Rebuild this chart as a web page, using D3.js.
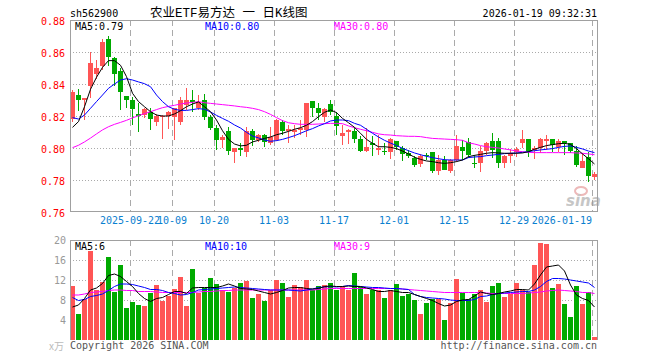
<!DOCTYPE html>
<html><head><meta charset="utf-8">
<script src="https://cdn.jsdelivr.net/npm/d3@7/dist/d3.min.js"></script>
<style>body{margin:0;background:#fff}svg{display:block}</style>
</head><body>
<svg id="c" width="660" height="360"></svg>
<script>
const dates = ["2025-09-08","2025-09-09","2025-09-10","2025-09-11","2025-09-12","2025-09-15","2025-09-16","2025-09-17","2025-09-18","2025-09-19","2025-09-22","2025-09-23","2025-09-24","2025-09-25","2025-09-26","2025-09-29","2025-09-30","2025-10-09","2025-10-10","2025-10-13","2025-10-14","2025-10-15","2025-10-16","2025-10-17","2025-10-20","2025-10-21","2025-10-22","2025-10-23","2025-10-24","2025-10-27","2025-10-28","2025-10-29","2025-10-30","2025-10-31","2025-11-03","2025-11-04","2025-11-05","2025-11-06","2025-11-07","2025-11-10","2025-11-11","2025-11-12","2025-11-13","2025-11-14","2025-11-17","2025-11-18","2025-11-19","2025-11-20","2025-11-21","2025-11-24","2025-11-25","2025-11-26","2025-11-27","2025-11-28","2025-12-01","2025-12-02","2025-12-03","2025-12-04","2025-12-05","2025-12-08","2025-12-09","2025-12-10","2025-12-11","2025-12-12","2025-12-15","2025-12-16","2025-12-17","2025-12-18","2025-12-19","2025-12-22","2025-12-23","2025-12-24","2025-12-25","2025-12-26","2025-12-29","2025-12-30","2025-12-31","2026-01-05","2026-01-06","2026-01-07","2026-01-08","2026-01-09","2026-01-12","2026-01-13","2026-01-14","2026-01-15","2026-01-16","2026-01-19"];

const open  = [0.818,0.833,0.830,0.839,0.846,0.851,0.868,0.856,0.848,0.8325,0.830,0.8213,0.8206,0.8228,0.8165,0.8196,0.820,0.8196,0.8165,0.8269,0.830,0.8248,0.830,0.8192,0.8124,0.8047,0.8109,0.7978,0.7999,0.7978,0.8109,0.8051,0.8082,0.8030,0.8051,0.8165,0.8109,0.8103,0.8113,0.8113,0.8294,0.8253,0.8196,0.8275,0.8200,0.8076,0.8103,0.8107,0.8057,0.7984,0.8034,0.7989,0.7984,0.7978,0.8045,0.7999,0.7968,0.7936,0.7901,0.7957,0.7974,0.7859,0.7926,0.7859,0.7926,0.8009,0.8040,0.7905,0.7909,0.7982,0.8045,0.8045,0.7909,0.7947,0.7978,0.8034,0.8057,0.7989,0.7999,0.8045,0.8057,0.8005,0.8045,0.8030,0.7984,0.7874,0.7942,0.7817];
const high  = [0.836,0.837,0.8315,0.860,0.855,0.868,0.870,0.857,0.850,0.8325,0.832,0.828,0.825,0.8248,0.821,0.8206,0.8234,0.8248,0.832,0.8373,0.8363,0.833,0.834,0.8206,0.8144,0.8082,0.813,0.7999,0.803,0.813,0.812,0.8088,0.8088,0.813,0.818,0.8175,0.8144,0.8144,0.8175,0.8284,0.8294,0.828,0.825,0.830,0.8228,0.8144,0.8117,0.8134,0.8072,0.8124,0.8072,0.808,0.803,0.806,0.8045,0.801,0.7989,0.7947,0.7963,0.7968,0.7974,0.7957,0.795,0.793,0.808,0.805,0.806,0.7957,0.8013,0.804,0.8092,0.806,0.7957,0.7993,0.8009,0.8113,0.8057,0.8013,0.8061,0.8082,0.8057,0.8057,0.8045,0.8034,0.8013,0.7968,0.7972,0.7853];
const low   = [0.816,0.823,0.8175,0.831,0.843,0.849,0.851,0.839,0.824,0.825,0.8145,0.810,0.8186,0.811,0.814,0.8057,0.812,0.805,0.8145,0.8238,0.8228,0.8238,0.8175,0.8113,0.7989,0.7999,0.7957,0.7909,0.795,0.7943,0.8013,0.804,0.8005,0.802,0.8045,0.8082,0.8030,0.806,0.808,0.807,0.8196,0.8175,0.8165,0.8207,0.8082,0.802,0.8026,0.803,0.7972,0.7978,0.7951,0.7957,0.7957,0.793,0.799,0.792,0.7937,0.7884,0.788,0.7926,0.7843,0.7832,0.786,0.7843,0.791,0.7925,0.7936,0.7874,0.7853,0.7957,0.7936,0.7874,0.7874,0.7905,0.7943,0.7999,0.7943,0.7930,0.7968,0.7988,0.7978,0.7978,0.7957,0.7968,0.7884,0.7874,0.7790,0.7797];
const close = [0.835,0.830,0.831,0.853,0.850,0.866,0.857,0.846,0.835,0.830,0.8244,0.820,0.8244,0.818,0.820,0.8200,0.8228,0.8248,0.830,0.830,0.829,0.829,0.8196,0.8124,0.8047,0.8066,0.7984,0.7999,0.7989,0.8109,0.8047,0.8082,0.8040,0.8066,0.8175,0.8109,0.8117,0.8113,0.8124,0.8284,0.8253,0.8217,0.8244,0.8227,0.8138,0.8092,0.8113,0.8057,0.7984,0.8009,0.8018,0.7999,0.7980,0.8057,0.8005,0.7961,0.7947,0.7895,0.7951,0.7955,0.7859,0.7926,0.7864,0.7926,0.8013,0.7984,0.7957,0.7900,0.7982,0.8030,0.7988,0.7905,0.7947,0.7968,0.7993,0.8057,0.7984,0.7999,0.8057,0.8057,0.8020,0.8045,0.8030,0.7984,0.7895,0.7916,0.7826,0.7836];
const volume = [10.8,5.2,8.3,17.8,10.0,11.7,16.7,9.7,15.0,6.5,7.7,7.0,6.8,9.5,11.0,7.9,8.9,10.2,12.7,6.8,14.2,9.5,10.5,12.5,11.2,10.0,9.7,10.5,11.5,11.8,8.4,9.2,7.9,10.1,12.0,11.5,8.7,11.0,10.7,12.0,10.0,10.8,11.0,11.5,10.1,10.7,10.0,13.5,10.7,9.2,10.0,10.0,8.4,10.1,11.2,8.8,9.2,8.0,5.2,7.5,8.3,8.3,4.0,7.5,12.2,9.5,8.3,9.3,10.0,7.7,10.8,11.5,8.7,9.3,11.5,10.1,9.7,15.0,19.5,19.2,10.5,11.2,7.2,4.7,10.8,7.2,9.7,0.7];

const ma5  = [0.8129,0.8165,0.8258,0.8367,0.8442,0.8504,0.8546,0.8546,0.8517,0.8446,0.8342,0.8290,0.8258,0.8227,0.8206,0.8200,0.8200,0.8213,0.8233,0.8258,0.8275,0.8288,0.8258,0.8227,0.8175,0.8108,0.8054,0.8025,0.8013,0.8017,0.8038,0.8048,0.8060,0.8069,0.8083,0.8092,0.8104,0.8117,0.8127,0.8142,0.8165,0.8196,0.8223,0.8238,0.8221,0.8185,0.8158,0.8129,0.8092,0.8054,0.8029,0.8008,0.8008,0.8004,0.7996,0.7981,0.7963,0.7942,0.7929,0.7919,0.7915,0.7908,0.7904,0.7908,0.7915,0.7925,0.7946,0.7954,0.7960,0.7967,0.7971,0.7969,0.7967,0.7967,0.7967,0.7969,0.7977,0.7992,0.8004,0.8015,0.8021,0.8027,0.8029,0.8023,0.7996,0.7963,0.7933,0.7900];
const ma10 = [0.8190,0.8181,0.8206,0.8248,0.8290,0.8331,0.8373,0.8400,0.8425,0.8433,0.8425,0.8413,0.8402,0.8383,0.8331,0.8290,0.8258,0.8242,0.8235,0.8235,0.8240,0.8246,0.8242,0.8225,0.8204,0.8185,0.8167,0.8144,0.8125,0.8098,0.8075,0.8063,0.8050,0.8042,0.8046,0.8054,0.8065,0.8077,0.8092,0.8108,0.8121,0.8138,0.8152,0.8169,0.8175,0.8175,0.8171,0.8154,0.8142,0.8117,0.8092,0.8069,0.8048,0.8031,0.8015,0.7998,0.7983,0.7969,0.7958,0.7948,0.7940,0.7933,0.7927,0.7925,0.7925,0.7925,0.7940,0.7944,0.7946,0.7952,0.7956,0.7960,0.7965,0.7967,0.7969,0.7973,0.7977,0.7983,0.7988,0.7992,0.7996,0.8004,0.8010,0.8013,0.8004,0.7994,0.7981,0.7971];
const ma30 = [0.8002,0.8017,0.8038,0.8062,0.8088,0.8113,0.8133,0.8148,0.8160,0.8173,0.8188,0.8202,0.8215,0.8227,0.8240,0.8252,0.8260,0.8267,0.8275,0.8281,0.8285,0.8290,0.8283,0.8279,0.8275,0.8271,0.8267,0.8263,0.8258,0.8254,0.8248,0.8240,0.8227,0.8210,0.8190,0.8171,0.8158,0.8152,0.8148,0.8148,0.8148,0.8150,0.8152,0.8154,0.8154,0.8152,0.8138,0.8127,0.8117,0.8108,0.8098,0.8088,0.8083,0.8081,0.8077,0.8075,0.8073,0.8073,0.8071,0.8065,0.8060,0.8058,0.8056,0.8054,0.8052,0.8048,0.8033,0.8025,0.8015,0.8008,0.8004,0.8000,0.7994,0.7988,0.7981,0.7977,0.7973,0.7971,0.7971,0.7971,0.7971,0.7971,0.7971,0.7971,0.7969,0.7967,0.7963,0.7958];

const vma5  = [6.6,7.0,8.3,10.0,10.4,11.3,12.9,13.2,12.7,11.7,10.7,9.3,8.3,7.7,8.3,8.5,9.1,9.7,9.7,9.3,10.4,10.5,10.5,10.5,10.5,10.8,11.2,10.8,10.3,10.2,10.1,9.8,9.5,9.2,9.5,9.9,10.4,10.5,10.5,10.3,10.2,10.3,10.7,10.8,10.7,10.7,10.8,10.7,10.7,10.4,10.1,9.7,9.7,9.9,9.7,9.5,9.5,9.1,8.7,8.3,7.9,7.3,6.8,7.0,7.7,8.0,8.1,8.8,9.6,9.3,9.1,9.3,9.6,9.8,10.1,10.1,10.0,11.2,13.0,14.6,14.8,15.0,13.8,11.0,9.0,8.3,7.9,6.6];
const vma10 = [8.5,7.9,8.1,8.7,8.9,9.2,9.9,10.7,11.2,11.2,11.1,10.8,10.5,10.1,10.1,9.9,9.5,9.3,9.0,9.1,9.5,10.0,10.1,10.2,10.3,10.4,10.5,10.6,10.5,10.4,10.3,10.2,10.1,10.0,10.0,10.0,10.0,9.9,9.8,10.0,10.2,10.5,10.6,10.7,10.6,10.7,10.9,10.8,10.7,10.6,10.5,10.5,10.4,10.3,10.3,10.2,10.1,9.1,8.7,8.5,8.4,8.3,8.2,8.0,7.9,7.9,7.9,8.1,8.7,8.8,9.1,9.3,9.4,9.5,9.6,9.7,9.7,10.0,10.7,11.7,12.3,12.3,12.2,12.0,11.8,11.6,11.4,10.5];
const vma30 = [9.0,9.0,9.2,9.5,9.6,9.7,9.9,10.0,10.0,9.9,9.9,9.7,9.7,9.7,9.6,9.5,9.5,9.5,9.5,9.5,9.5,9.6,9.7,9.7,9.8,9.9,9.9,10.0,10.0,10.0,10.0,10.0,10.0,10.0,10.0,10.0,10.0,10.0,10.0,10.0,10.0,10.1,10.2,10.3,10.3,10.3,10.3,10.3,10.3,10.3,10.3,10.3,10.3,10.3,10.3,10.2,10.1,10.0,9.9,9.8,9.7,9.6,9.5,9.5,9.5,9.5,9.5,9.5,9.5,9.4,9.3,9.3,9.3,9.3,9.3,9.3,9.4,9.5,9.6,9.8,9.9,10.0,9.9,9.8,9.7,9.5,9.5,9.3];

const priceTicks = [0.76,0.78,0.80,0.82,0.84,0.86,0.88];
const volTicks = [4,8,12,16,20];
const dateTicks = ["2025-09-22","2025-10-09","2025-10-20","2025-11-03","2025-11-17","2025-12-01","2025-12-15","2025-12-29","2026-01-19"];
const dateTickLabels = ["2025-09-22","10-09","10-20","11-03","11-17","12-01","12-15","12-29","2026-01-19"];

const svg = d3.select("#c");
const L = 70, R = 597, PT = 20, PB = 212, VT = 240, VB = 340;
const MONO = "'DejaVu Sans Mono', 'Liberation Mono', monospace";
const RED = "#ff5555", GREEN = "#00aa00";

const x = d3.scaleBand().domain(dates).range([L, R]).paddingInner(1/6).paddingOuter(0);
const bw = x.bandwidth();
const y = d3.scaleLinear().domain([0.76, 0.88]).range([PB, PT]);
const yv = d3.scaleLinear().domain([0, 20]).range([VB, VT]);

const data = dates.map((d, i) => ({d, o: open[i], h: high[i], l: low[i], c: close[i], v: volume[i]}));
const isUp = d => d.c >= d.o;

// grid
const grid = svg.append("g").attr("shape-rendering", "crispEdges");
grid.selectAll(".hp").data(priceTicks.slice(1, -1)).join("line")
  .attr("x1", L).attr("x2", R)
  .attr("y1", d => Math.round(y(d)) + 0.5).attr("y2", d => Math.round(y(d)) + 0.5)
  .attr("stroke", "#aaa").attr("stroke-dasharray", "1,2");
grid.selectAll(".hv").data(volTicks.slice(0, -1)).join("line")
  .attr("x1", L).attr("x2", R)
  .attr("y1", d => Math.round(yv(d)) + 0.5).attr("y2", d => Math.round(yv(d)) + 0.5)
  .attr("stroke", "#aaa").attr("stroke-dasharray", "1,2");
[[PT, PB], [VT, VB]].forEach(([a, b]) => {
  grid.append("g").selectAll("line").data(dateTicks).join("line")
    .attr("x1", d => Math.round(x(d)) + 0.5).attr("x2", d => Math.round(x(d)) + 0.5)
    .attr("y1", a).attr("y2", b)
    .attr("stroke", "#aaa").attr("stroke-dasharray", "6,4");
});

// sina watermark
const wm = svg.append("g").attr("opacity", 0.55);
wm.append("ellipse").attr("cx", 581).attr("cy", 191).attr("rx", 6).attr("ry", 4).attr("fill", "none").attr("stroke", "#e08080").attr("stroke-width", 2);
wm.append("text").attr("x", 566).attr("y", 206).attr("font-family", "'DejaVu Sans', sans-serif")
  .attr("font-size", 15).attr("font-style", "italic").attr("font-weight", "bold").attr("fill", "#999").text("sina");

// candles
const cg = svg.append("g").attr("shape-rendering", "crispEdges");
cg.selectAll(".wick").data(data).join("line")
  .attr("x1", d => Math.round(x(d.d)) + 2.5).attr("x2", d => Math.round(x(d.d)) + 2.5)
  .attr("y1", d => y(d.h)).attr("y2", d => y(d.l))
  .attr("stroke", d => isUp(d) ? RED : GREEN);
cg.selectAll(".body").data(data).join("rect")
  .attr("x", d => Math.round(x(d.d))).attr("width", Math.round(bw))
  .attr("y", d => y(Math.max(d.o, d.c)))
  .attr("height", d => Math.max(1, Math.abs(y(d.o) - y(d.c))))
  .attr("fill", d => isUp(d) ? RED : GREEN);

// volume bars
cg.selectAll(".vol").data(data).join("rect")
  .attr("x", d => Math.round(x(d.d))).attr("width", Math.round(bw))
  .attr("y", d => yv(d.v)).attr("height", d => yv(0) - yv(d.v))
  .attr("fill", d => isUp(d) ? RED : GREEN);

// MA lines
const lineP = d3.line().x((v, i) => x(dates[i]) + bw / 2).y(v => y(v));
const lineV = d3.line().x((v, i) => x(dates[i]) + bw / 2).y(v => yv(v));
[[ma30, "#ff00ff"], [ma10, "#0000ff"], [ma5, "#000000"]].forEach(([s, col]) =>
  svg.append("path").attr("d", lineP(s)).attr("fill", "none").attr("stroke", col).attr("stroke-width", 1));
[[vma30, "#ff00ff"], [vma10, "#0000ff"], [vma5, "#000000"]].forEach(([s, col]) =>
  svg.append("path").attr("d", lineV(s)).attr("fill", "none").attr("stroke", col).attr("stroke-width", 1));

// frames
const fr = svg.append("g").attr("shape-rendering", "crispEdges").attr("fill", "none").attr("stroke", "#a0a0a0");
fr.append("rect").attr("x", L + 0.5).attr("y", PT + 0.5).attr("width", R - L).attr("height", PB - PT - 1);
fr.append("path").attr("d", `M${L + 0.5},${VB}V${VT + 0.5}H${R + 0.5}V${VB}`);

// axes
const ay = svg.append("g").attr("transform", `translate(${L},0)`)
  .call(d3.axisLeft(y).tickValues(priceTicks).tickFormat(d3.format(".2f")).tickSize(0).tickPadding(5));
ay.select(".domain").remove();
ay.selectAll("text").attr("fill", "#ff0000").attr("font-family", MONO).attr("font-size", 10).attr("dy", "0.45em");

const av = svg.append("g").attr("transform", `translate(${L},0)`)
  .call(d3.axisLeft(yv).tickValues(volTicks).tickSize(0).tickPadding(4));
av.select(".domain").remove();
av.selectAll("text").attr("fill", "#999").attr("font-family", MONO).attr("font-size", 10).attr("dy", "0.33em");

const ax = svg.append("g").attr("transform", `translate(${-bw / 2},${PB})`)
  .call(d3.axisBottom(x).tickValues(dateTicks).tickFormat(d => dateTickLabels[dateTicks.indexOf(d)]).tickSize(0).tickPadding(5));
ax.select(".domain").remove();
ax.selectAll("text").attr("fill", "#0a80d0").attr("font-family", MONO).attr("font-size", 10)
  .attr("text-anchor", (d, i) => i === dateTicks.length - 1 ? "end" : "middle");

svg.append("text").attr("x", 64).attr("y", 350).attr("text-anchor", "end")
  .attr("font-family", "'Noto Sans CJK SC', sans-serif").attr("font-size", 10).attr("fill", "#bbb").text("x万");

// texts
const t = (xx, yy, s, col, anchor, fam, size) => svg.append("text").attr("x", xx).attr("y", yy)
  .attr("text-anchor", anchor || "start").attr("font-family", fam || MONO).attr("font-size", size || 10)
  .attr("fill", col).text(s);
t(70, 16.5, "sh562900", "#000");
t(597, 16.5, "2026-01-19 09:32:31", "#000", "end");
t(150, 16.5, "农业ETF易方达 一 日K线图", "#000", "start", "'Liberation Mono', 'Noto Sans CJK SC', monospace", 12.5);

const f2 = d3.format(".2f");
const last = a => a[a.length - 1];
t(75, 29.5, "MA5:" + f2(last(ma5)), "#000");
t(205, 29.5, "MA10:" + f2(last(ma10)), "#0000ff");
t(334, 29.5, "MA30:" + f2(last(ma30)), "#ff00ff");
t(75, 250, "MA5:" + Math.floor(last(vma5)), "#000");
t(205, 250, "MA10:" + Math.floor(last(vma10)), "#0000ff");
t(334, 250, "MA30:" + Math.floor(last(vma30)), "#ff00ff");

t(70, 349, "Copyright 2026 SINA.COM", "#555");
t(597, 349, "http://finance.sina.com.cn", "#555", "end");
</script>
</body></html>
